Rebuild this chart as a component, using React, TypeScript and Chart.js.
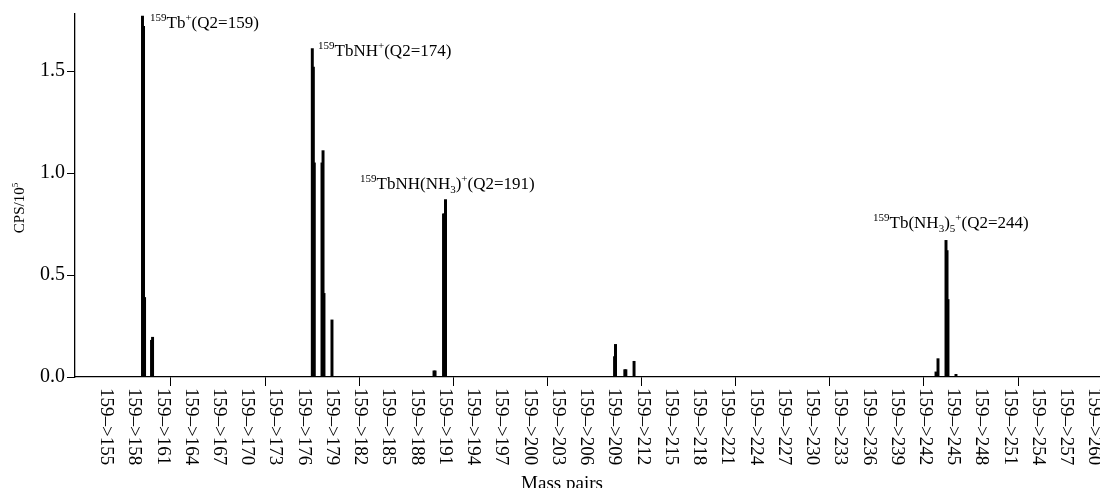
import React, { useEffect, useRef } from "react";
import { Chart, registerables } from "chart.js";

Chart.register(...registerables);

// ---- data ----
const peakMass = [
  158.98, 159.09, 159.2, 159.94, 160.05,
  177.02, 177.13, 177.23, 178.05, 178.16, 178.26, 179.11,
  189.95, 190.06, 190.96, 191.07, 191.17,
  209.13, 209.23, 210.22, 210.33, 211.2,
  243.28, 243.49, 244.34, 244.45, 244.55, 245.4,
];
const peakCps = [
  1.77, 1.72, 0.39, 0.18, 0.195,
  1.61, 1.52, 1.05, 1.05, 1.11, 0.41, 0.28,
  0.03, 0.03, 0.8, 0.8, 0.87,
  0.1, 0.16, 0.036, 0.036, 0.077,
  0.025, 0.09, 0.67, 0.62, 0.38, 0.013,
];

const xLabelMasses = [
  155, 158, 161, 164, 167, 170, 173, 176, 179, 182, 185, 188, 191, 194, 197, 200, 203, 206,
  209, 212, 215, 218, 221, 224, 227, 230, 233, 236, 239, 242, 245, 248, 251, 254, 257, 260,
];
const xLabels = xLabelMasses.map((m) => "159\u2013>" + m);
const xTickMarks = [162, 172, 182, 192, 202, 212, 222, 232, 242, 252];
const yTickValues = [0, 0.5, 1.0, 1.5];

type Part = { t: string; k?: "sup" | "sub" };
const annotationTexts: Part[][] = [
  [{ t: "159", k: "sup" }, { t: "Tb" }, { t: "+", k: "sup" }, { t: "(Q2=159)" }],
  [{ t: "159", k: "sup" }, { t: "TbNH" }, { t: "+", k: "sup" }, { t: "(Q2=174)" }],
  [
    { t: "159", k: "sup" }, { t: "TbNH(NH" }, { t: "3", k: "sub" }, { t: ")" },
    { t: "+", k: "sup" }, { t: "(Q2=191)" },
  ],
  [
    { t: "159", k: "sup" }, { t: "Tb(NH" }, { t: "3", k: "sub" }, { t: ")" },
    { t: "5", k: "sub" }, { t: "+", k: "sup" }, { t: "(Q2=244)" },
  ],
];
const annotationMass = [159.78, 177.63, 182.09, 236.59];
const annotationCps = [1.711, 1.574, 0.922, 0.73];

const SERIF = "'Liberation Serif', 'Times New Roman', serif";

function drawRich(ctx: CanvasRenderingContext2D, x: number, y: number, parts: Part[]) {
  let cx = x;
  ctx.textAlign = "left";
  ctx.textBaseline = "alphabetic";
  for (const p of parts) {
    if (p.k === "sup") {
      ctx.font = `11px ${SERIF}`;
      ctx.fillText(p.t, cx, y - 7);
    } else if (p.k === "sub") {
      ctx.font = `11px ${SERIF}`;
      ctx.fillText(p.t, cx, y + 4);
    } else {
      ctx.font = `17px ${SERIF}`;
      ctx.fillText(p.t, cx, y);
    }
    cx += ctx.measureText(p.t).width;
  }
}

const textPlugin = {
  id: "textPlugin",
  afterDraw(chart: any) {
    const ctx: CanvasRenderingContext2D = chart.ctx;
    const xs = chart.scales.x;
    const ys = chart.scales.y;
    ctx.save();
    ctx.fillStyle = "#000";
    // x tick labels, rotated clockwise
    ctx.font = `19px ${SERIF}`;
    xLabelMasses.forEach((m, i) => {
      const px = xs.getPixelForValue(m);
      ctx.save();
      ctx.translate(px + 1, 388);
      ctx.rotate(Math.PI / 2);
      ctx.textAlign = "left";
      ctx.textBaseline = "middle";
      ctx.fillText(xLabels[i], 0, 0);
      ctx.restore();
    });
    // annotations
    annotationTexts.forEach((parts, i) => {
      drawRich(ctx, xs.getPixelForValue(annotationMass[i]), ys.getPixelForValue(annotationCps[i]), parts);
    });
    // y title
    ctx.save();
    ctx.translate(24, 208);
    ctx.rotate(-Math.PI / 2);
    ctx.textBaseline = "alphabetic";
    ctx.font = `15px ${SERIF}`;
    const main = "CPS/10";
    const wMain = ctx.measureText(main).width;
    ctx.font = `9px ${SERIF}`;
    const wSup = ctx.measureText("5").width;
    const start = -(wMain + wSup) / 2;
    ctx.font = `15px ${SERIF}`;
    ctx.textAlign = "left";
    ctx.fillText(main, start, 0);
    ctx.font = `9px ${SERIF}`;
    ctx.fillText("5", start + wMain, -6);
    ctx.restore();
    // x title
    ctx.font = `19px ${SERIF}`;
    ctx.textAlign = "center";
    ctx.textBaseline = "alphabetic";
    ctx.fillText("Mass pairs", 562, 489);
    ctx.restore();
  },
};

export default function App() {
  const ref = useRef<HTMLCanvasElement>(null);
  useEffect(() => {
    if (!ref.current) return;
    const chart = new Chart(ref.current, {
      type: "bar",
      data: {
        datasets: [
          {
            data: peakMass.map((m, i) => ({ x: m, y: peakCps[i] })),
            backgroundColor: "#000",
            borderWidth: 0,
            barThickness: 2.3,
          } as any,
        ],
      },
      options: {
        responsive: false,
        animation: false,
        events: [],
        layout: { padding: { top: 14, left: 0, right: 0, bottom: 0 } },
        plugins: { legend: { display: false }, tooltip: { enabled: false } },
        scales: {
          x: {
            type: "linear",
            min: 151.81,
            max: 260.7,
            offset: false,
            afterBuildTicks: (s: any) => {
              s.ticks = xTickMarks.map((v) => ({ value: v }));
            },
            afterFit: (s: any) => {
              s.height = 111;
            },
            ticks: { display: false },
            grid: {
              display: true,
              offset: false,
              drawOnChartArea: false,
              drawTicks: true,
              tickLength: 9,
              color: "#000",
              lineWidth: 1,
            },
            border: { display: true, color: "#000", width: 1.3 },
          },
          y: {
            type: "linear",
            min: 0,
            max: 1.78,
            afterBuildTicks: (s: any) => {
              s.ticks = yTickValues.map((v) => ({ value: v }));
            },
            afterFit: (s: any) => {
              s.width = 75;
            },
            ticks: {
              padding: 2,
              color: "#000",
              font: { family: SERIF, size: 20 },
              callback: (v: any) => Number(v).toFixed(1),
            },
            grid: {
              display: true,
              offset: false,
              drawOnChartArea: false,
              drawTicks: true,
              tickLength: 8,
              color: "#000",
              lineWidth: 1,
            },
            border: { display: true, color: "#000", width: 1.3 },
          },
        },
      } as any,
      plugins: [textPlugin],
    });
    return () => chart.destroy();
  }, []);
  return (
    <div style={{ position: "fixed", left: 0, top: 0, width: 1100, height: 488, background: "#fff" }}>
      <canvas ref={ref} width={1100} height={488} style={{ width: 1100, height: 488 }} />
    </div>
  );
}
